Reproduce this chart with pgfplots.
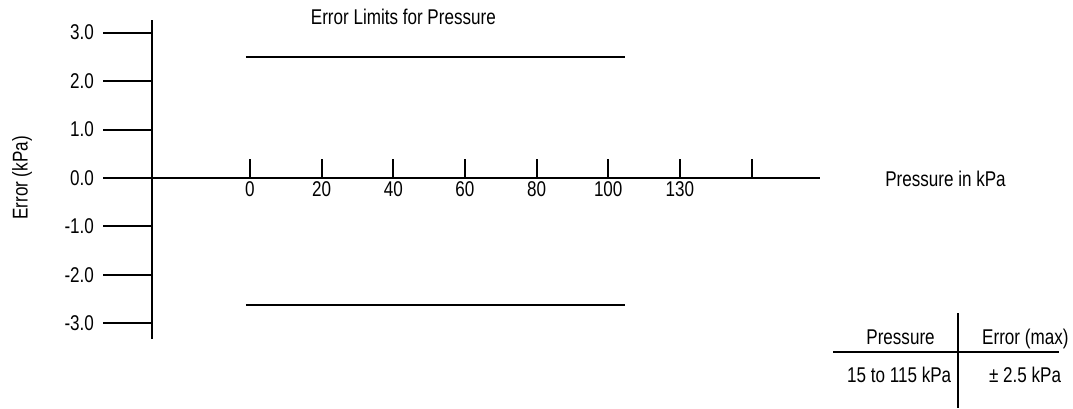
\documentclass[border=0pt]{standalone}
\usepackage{fontspec}
\setmainfont{Liberation Sans}[FakeStretch=0.8]
\usepackage{pgfplots}
\pgfplotsset{compat=1.18}
\newcommand\fs{\fontsize{16}{19}\selectfont}
\begin{document}
\begin{tikzpicture}
\path[use as bounding box] (0pt,0pt) rectangle (804.75pt,306pt);
\begin{axis}[
  at={(114pt,51.75pt)}, anchor=south west,
  scale only axis, width=501pt, height=239.25pt,
  xmin=-27.33, xmax=159.1, ymin=-3.32, ymax=3.258,
  axis x line*=middle, axis y line*=left,
  axis line style={line width=1.5pt, -},
  clip=false,
  xtick={0,20,...,140}, xticklabels={0,20,40,60,80,100,130,{}},
  ytick={-3,-2,...,3}, yticklabels={-3.0,-2.0,-1.0,0.0,1.0,2.0,3.0},
  major tick length=0pt, tick style={draw=none},
  hide obscured x ticks=false, hide obscured y ticks=false,
  yticklabel style={xshift=-40pt},
  xticklabel style={yshift=1pt},
  tick label style={font=\fs},
]
\addplot[line width=1.5pt, black] coordinates {(-1.1,2.5) (104.6,2.5)};
\addplot[line width=1.5pt, black] coordinates {(-1.1,-2.62) (104.6,-2.62)};
\pgfplotsinvokeforeach{-3,-2,...,3}{\draw[line width=1.5pt] (axis cs:-27.33,#1) -- ++(-36.75pt,0pt);}
\pgfplotsinvokeforeach{0,20,...,140}{\draw[line width=1.5pt] (axis cs:#1,0) -- ++(0pt,14.25pt);}
\end{axis}
% title and axis labels
\node[font=\fs, anchor=base, inner sep=0pt] at (302.5pt,287.8pt) {Error Limits for Pressure};
\node[font=\fs, anchor=base west, inner sep=0pt] at (663.75pt,166.5pt) {Pressure in kPa};
\node[font=\fs, rotate=90, anchor=center, inner sep=0pt] at (16.5pt,172.5pt) {Error (kPa)};
% specification table
\draw[line width=1.5pt] (718.5pt,71.25pt) -- (718.5pt,0pt);
\draw[line width=1.5pt] (624.75pt,42.2pt) -- (794.25pt,42.2pt);
\node[font=\fs, anchor=base, inner sep=0pt] at (675.4pt,47.6pt) {Pressure};
\node[font=\fs, anchor=base, inner sep=0pt] at (769pt,47.6pt) {Error (max)};
\node[font=\fs, anchor=base, inner sep=0pt] at (674.4pt,19.5pt) {15 to 115 kPa};
\node[font=\fs, anchor=base, inner sep=0pt] at (768.75pt,19.5pt) {± 2.5 kPa};
\end{tikzpicture}
\end{document}
